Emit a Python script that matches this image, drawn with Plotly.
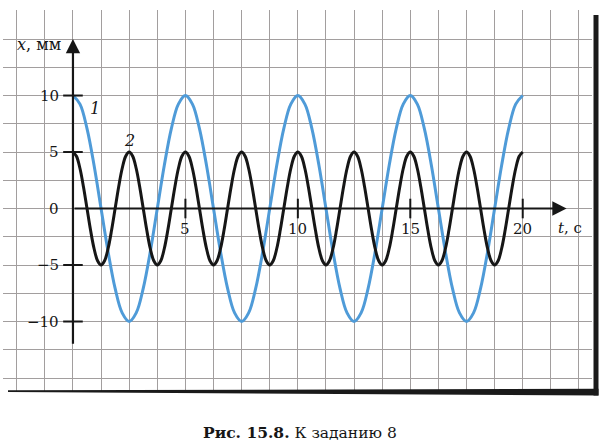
import plotly.graph_objects as go

# ---- data ----
# curve 1 (blue): amplitude 10 mm, period 5 s
t1 = [0, 0.3125, 0.625, 0.9375, 1.25, 1.5625, 1.875, 2.1875, 2.5, 2.8125, 3.125, 3.4375, 3.75, 4.0625,
      4.375, 4.6875, 5, 5.3125, 5.625, 5.9375, 6.25, 6.5625, 6.875, 7.1875, 7.5, 7.8125, 8.125, 8.4375,
      8.75, 9.0625, 9.375, 9.6875, 10, 10.3125, 10.625, 10.9375, 11.25, 11.5625, 11.875, 12.1875, 12.5,
      12.8125, 13.125, 13.4375, 13.75, 14.0625, 14.375, 14.6875, 15, 15.3125, 15.625, 15.9375, 16.25,
      16.5625, 16.875, 17.1875, 17.5, 17.8125, 18.125, 18.4375, 18.75, 19.0625, 19.375, 19.6875, 20]
x1 = [10, 9.24, 7.07, 3.83, 0, -3.83, -7.07, -9.24, -10, -9.24, -7.07, -3.83, 0, 3.83, 7.07, 9.24,
      10, 9.24, 7.07, 3.83, 0, -3.83, -7.07, -9.24, -10, -9.24, -7.07, -3.83, 0, 3.83, 7.07, 9.24,
      10, 9.24, 7.07, 3.83, 0, -3.83, -7.07, -9.24, -10, -9.24, -7.07, -3.83, 0, 3.83, 7.07, 9.24,
      10, 9.24, 7.07, 3.83, 0, -3.83, -7.07, -9.24, -10, -9.24, -7.07, -3.83, 0, 3.83, 7.07, 9.24,
      10]

# curve 2 (black): amplitude 5 mm, period 2.5 s
t2 = [0, 0.15625, 0.3125, 0.46875, 0.625, 0.78125, 0.9375, 1.09375, 1.25, 1.40625, 1.5625, 1.71875,
      1.875, 2.03125, 2.1875, 2.34375,
      2.5, 2.65625, 2.8125, 2.96875, 3.125, 3.28125, 3.4375, 3.59375, 3.75, 3.90625, 4.0625, 4.21875,
      4.375, 4.53125, 4.6875, 4.84375,
      5, 5.15625, 5.3125, 5.46875, 5.625, 5.78125, 5.9375, 6.09375, 6.25, 6.40625, 6.5625, 6.71875,
      6.875, 7.03125, 7.1875, 7.34375,
      7.5, 7.65625, 7.8125, 7.96875, 8.125, 8.28125, 8.4375, 8.59375, 8.75, 8.90625, 9.0625, 9.21875,
      9.375, 9.53125, 9.6875, 9.84375,
      10, 10.15625, 10.3125, 10.46875, 10.625, 10.78125, 10.9375, 11.09375, 11.25, 11.40625, 11.5625,
      11.71875, 11.875, 12.03125, 12.1875, 12.34375,
      12.5, 12.65625, 12.8125, 12.96875, 13.125, 13.28125, 13.4375, 13.59375, 13.75, 13.90625, 14.0625,
      14.21875, 14.375, 14.53125, 14.6875, 14.84375,
      15, 15.15625, 15.3125, 15.46875, 15.625, 15.78125, 15.9375, 16.09375, 16.25, 16.40625, 16.5625,
      16.71875, 16.875, 17.03125, 17.1875, 17.34375,
      17.5, 17.65625, 17.8125, 17.96875, 18.125, 18.28125, 18.4375, 18.59375, 18.75, 18.90625, 19.0625,
      19.21875, 19.375, 19.53125, 19.6875, 19.84375,
      20]
x2 = [5, 4.62, 3.54, 1.91, 0, -1.91, -3.54, -4.62, -5, -4.62, -3.54, -1.91, 0, 1.91, 3.54, 4.62,
      5, 4.62, 3.54, 1.91, 0, -1.91, -3.54, -4.62, -5, -4.62, -3.54, -1.91, 0, 1.91, 3.54, 4.62,
      5, 4.62, 3.54, 1.91, 0, -1.91, -3.54, -4.62, -5, -4.62, -3.54, -1.91, 0, 1.91, 3.54, 4.62,
      5, 4.62, 3.54, 1.91, 0, -1.91, -3.54, -4.62, -5, -4.62, -3.54, -1.91, 0, 1.91, 3.54, 4.62,
      5, 4.62, 3.54, 1.91, 0, -1.91, -3.54, -4.62, -5, -4.62, -3.54, -1.91, 0, 1.91, 3.54, 4.62,
      5, 4.62, 3.54, 1.91, 0, -1.91, -3.54, -4.62, -5, -4.62, -3.54, -1.91, 0, 1.91, 3.54, 4.62,
      5, 4.62, 3.54, 1.91, 0, -1.91, -3.54, -4.62, -5, -4.62, -3.54, -1.91, 0, 1.91, 3.54, 4.62,
      5, 4.62, 3.54, 1.91, 0, -1.91, -3.54, -4.62, -5, -4.62, -3.54, -1.91, 0, 1.91, 3.54, 4.62,
      5]

x_ticks = [5, 10, 15, 20]
x_tick_labels = ["5", "10", "15", "20"]
y_ticks = [10, 5, 0, -5, -10]
y_tick_labels = ["10", "5", "0", "\u22125", "\u221210"]
y_tick_marks = [10, 5, -5, -10]

x_title = "<i>t</i>, c"
y_title = "<i>x</i>, мм"
caption = "<b>Рис. 15.8.</b> К заданию 8"

# ---- layout geometry (pixels) ----
W, H = 605, 446
ML, MR, MT, MB = 3, 13, 10, 55
PW, PH = W - ML - MR, H - MT - MB


def px(x):
    return (x - ML) / PW


def py(y):
    return 1 - (y - MT) / PH


SERIF = "DejaVu Serif"
INK = "#161616"
BLUE = "#4f9bd8"

fig = go.Figure()
fig.add_trace(go.Scatter(x=t1, y=x1, mode="lines", line=dict(color=BLUE, width=3, shape="spline", smoothing=1.0),
                         hoverinfo="skip", showlegend=False))
fig.add_trace(go.Scatter(x=t2, y=x2, mode="lines", line=dict(color=INK, width=3, shape="spline", smoothing=1.0),
                         hoverinfo="skip", showlegend=False))
# tick marks on the axes
fig.add_trace(go.Scatter(x=x_ticks, y=[0] * len(x_ticks), mode="markers",
                         marker=dict(symbol="line-ns", size=14, line=dict(color=INK, width=2)),
                         hoverinfo="skip", showlegend=False, cliponaxis=False))
fig.add_trace(go.Scatter(x=[0] * len(y_tick_marks), y=y_tick_marks, mode="markers",
                         marker=dict(symbol="line-ew", size=14, line=dict(color=INK, width=2)),
                         hoverinfo="skip", showlegend=False, cliponaxis=False))

ann = []
# axis arrows
ann.append(dict(x=21.95, y=0, ax=0, ay=0, xref="x", yref="y", axref="x", ayref="y", text="",
                showarrow=True, arrowhead=2, arrowsize=1.3, arrowwidth=2.2, arrowcolor=INK))
ann.append(dict(x=0, y=15.0, ax=0, ay=-12.1, xref="x", yref="y", axref="x", ayref="y", text="",
                showarrow=True, arrowhead=2, arrowsize=1.3, arrowwidth=2.2, arrowcolor=INK))
for v, s in zip(y_ticks, y_tick_labels):
    ann.append(dict(x=-0.55, y=v, xref="x", yref="y", text=s, showarrow=False, xanchor="right",
                    yanchor="middle", font=dict(family=SERIF, size=15, color=INK)))
for v, s in zip(x_ticks, x_tick_labels):
    ann.append(dict(x=v, y=-1.8, xref="x", yref="y", text=s, showarrow=False, xanchor="center",
                    yanchor="middle", font=dict(family=SERIF, size=15, color=INK)))
ann.append(dict(x=21.5, y=-1.7, xref="x", yref="y", text=x_title, showarrow=False, xanchor="left",
                yanchor="middle", font=dict(family=SERIF, size=15, color=INK)))
ann.append(dict(x=-0.45, y=14.5, xref="x", yref="y", text=y_title, showarrow=False, xanchor="right",
                yanchor="middle", font=dict(family=SERIF, size=16, color=INK)))
ann.append(dict(x=0.97, y=8.85, xref="x", yref="y", text="<i>1</i>", showarrow=False,
                font=dict(family=SERIF, size=16, color=INK)))
ann.append(dict(x=2.5, y=6.0, xref="x", yref="y", text="<i>2</i>", showarrow=False,
                font=dict(family=SERIF, size=16, color=INK)))
ann.append(dict(x=px(300), y=py(432), xref="paper", yref="paper", text=caption, showarrow=False,
                xanchor="center", yanchor="middle", font=dict(family=SERIF, size=15.5, color=INK)))

shapes = [
    dict(type="rect", xref="paper", yref="paper", x0=px(593.5), x1=px(598.5), y0=py(395.5), y1=py(15),
         fillcolor="#1a1a1a", line=dict(width=0), layer="above"),
    dict(type="path", xref="paper", yref="paper",
         path="M {} {} L {} {} L {} {} L {} {} Z".format(px(8), py(390.3), px(598.5), py(388.8),
                                                        px(598.5), py(395.5), px(8), py(392)),
         fillcolor="#1a1a1a", line=dict(width=0), layer="above"),
]

fig.update_layout(
    width=W, height=H, autosize=False,
    margin=dict(l=ML, r=MR, t=MT, b=MB),
    paper_bgcolor="white", plot_bgcolor="white",
    annotations=ann, shapes=shapes,
    xaxis=dict(range=[-3.111, 23.08], dtick=1.25, tick0=0, showgrid=True, gridcolor="#a29e9e",
               gridwidth=1, zeroline=False, showticklabels=False, ticks="", showline=False, fixedrange=True),
    yaxis=dict(range=[-16.15, 17.57], dtick=2.5, tick0=0, showgrid=True, gridcolor="#a29e9e",
               gridwidth=1, zeroline=False, showticklabels=False, ticks="", showline=False, fixedrange=True),
)
fig.write_html("out.html", config={"displayModeBar": False},
               post_script="document.body.style.margin='0';document.body.style.padding='0';")
